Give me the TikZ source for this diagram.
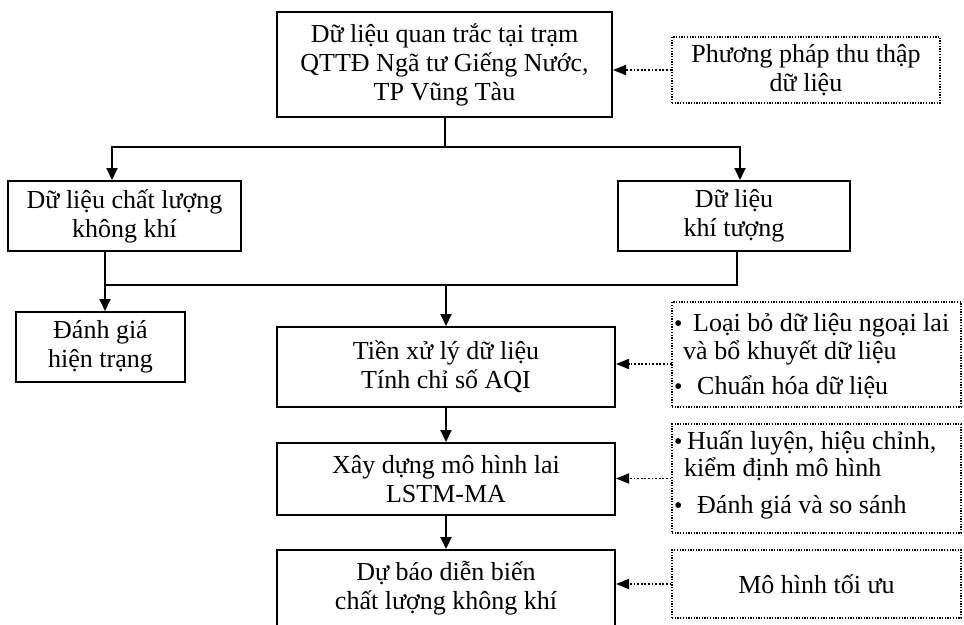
\documentclass[tikz,border=0pt]{standalone}
\usepackage{fontspec}
\setmainfont{Liberation Serif}
\usetikzlibrary{arrows.meta}
\begin{document}
\begin{tikzpicture}[x=1pt,y=-1pt,
  font=\fontsize{26}{29}\selectfont,
  sbox/.style={draw, line width=2pt, inner sep=0pt, align=center},
  dbox/.style={draw, line width=1.4pt, dash pattern=on 1.3pt off 1.4pt, inner sep=0pt, align=center},
  ln/.style={line width=2pt},
  arr/.style={line width=2pt, -{Triangle[length=12pt,width=11pt]}},
  darr/.style={line width=1.6pt, dash pattern=on 1.8pt off 1.8pt, -{Triangle[length=13pt,width=10pt]}},
  txt/.style={anchor=base west, inner sep=0pt},
  bul/.style={anchor=base west, inner sep=0pt, font=\fontsize{24}{26}\selectfont}]
\useasboundingbox (0,0) rectangle (964,624);
\clip (0,0) rectangle (964,624);
\fill[white] (0,0) rectangle (964,624);

% main boxes
\node[sbox, minimum width=335, minimum height=105] (top) at (444.5,64.5) {Dữ liệu quan trắc tại trạm\\QTTĐ Ngã tư Giếng Nước,\\TP Vũng Tàu};
\node[dbox, minimum width=268, minimum height=66] (src) at (806,70) {Phương pháp thu thập\\dữ liệu};
\node[sbox, minimum width=233, minimum height=70] (aq) at (124.5,216) {Dữ liệu chất lượng\\không khí};
\node[sbox, minimum width=232, minimum height=70] (met) at (734,216) {Dữ liệu\\khí tượng};
\node[sbox, minimum width=169, minimum height=70] (cur) at (100.5,347) {Đánh giá\\hiện trạng};
\node[sbox, minimum width=338, minimum height=80] (pre) at (446,367) {Tiền xử lý dữ liệu\\Tính chỉ số AQI};
\node[sbox, minimum width=338, minimum height=72] (mod) at (446,479) {Xây dựng mô hình lai\\LSTM-MA};
\node[sbox, minimum width=338, minimum height=76] (fc) at (446,588) {Dự báo diễn biến\\chất lượng không khí};

% dotted side boxes
\node[dbox, minimum width=289, minimum height=105] (pp) at (816.5,354.5) {};
\node[dbox, minimum width=289, minimum height=109] (tr) at (816.5,478.5) {};
\node[dbox, minimum width=289, minimum height=68] (opt) at (816.5,584) {Mô hình tối ưu};

% bullet texts
\node[bul] (ppb1) at (674,331) {•};
\node[txt] (ppt1) at (693,331) {Loại bỏ dữ liệu ngoại lai};
\node[txt] (ppt2) at (683,359) {và bổ khuyết dữ liệu};
\node[bul] (ppb2) at (674,394) {•};
\node[txt] (ppt3) at (697,394) {Chuẩn hóa dữ liệu};

\node[bul] (trb1) at (674,449) {•};
\node[txt] (trt1) at (687,449) {Huấn luyện, hiệu chỉnh,};
\node[txt] (trt2) at (684,476) {kiểm định mô hình};
\node[bul] (trb2) at (674,513) {•};
\node[txt] (trt3) at (697,513) {Đánh giá và so sánh};

% solid connectors
\coordinate (s1) at (112,147);
\coordinate (s2) at (740,147);
\draw[ln, line cap=rect] (s1) -- (s2);
\draw[ln] (top.south) -- (top.south |- s1);
\draw[arr] (s1) -- (s1 |- aq.north);
\draw[arr] (s2) -- (s2 |- met.north);
\coordinate (m1) at (105,285);
\coordinate (m2) at (737,285);
\draw[ln, line join=miter] (m1 |- aq.south) -- (m1) -- (m2) -- (m2 |- met.south);
\draw[arr] (m1) -- (m1 |- cur.north);
\draw[arr] (pre.north |- m1) -- (pre.north);
\draw[arr] (pre.south) -- (mod.north);
\draw[arr] (mod.south) -- (fc.north);

% dotted connectors
\draw[darr] (src.west) -- (src.west -| top.east);
\coordinate (a2) at (672,364);
\draw[darr] (a2) -- (a2 -| pre.east);
\draw[darr] (tr.west) -- (tr.west -| mod.east);
\draw[darr] (opt.west) -- (opt.west -| fc.east);
\end{tikzpicture}
\end{document}
